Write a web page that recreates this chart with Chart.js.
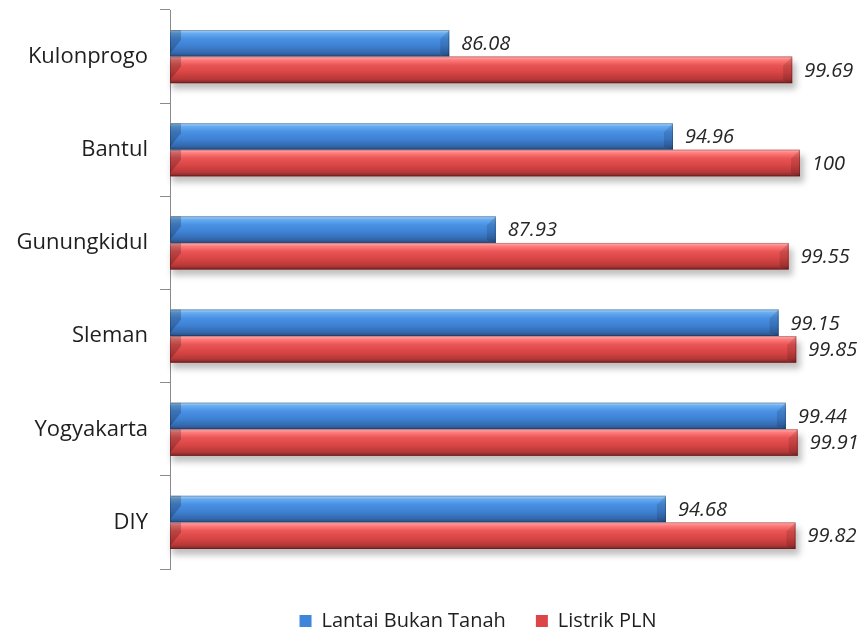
<!DOCTYPE html>
<html>
<head>
<meta charset="utf-8">
<script src="https://cdn.jsdelivr.net/npm/chart.js@4.4.0/dist/chart.umd.min.js"></script>
<style>
  html, body { margin: 0; padding: 0; background: #fff; }
  #wrap { width: 861px; height: 630px; }
</style>
</head>
<body>
<div id="wrap"><canvas id="chart"></canvas></div>
<script>
const regions = ['Kulonprogo', 'Bantul', 'Gunungkidul', 'Sleman', 'Yogyakarta', 'DIY'];
const lantaiBukanTanah = [86.08, 94.96, 87.93, 99.15, 99.44, 94.68];
const listrikPLN = [99.69, 100, 99.55, 99.85, 99.91, 99.82];
const seriesNames = ['Lantai Bukan Tanah', 'Listrik PLN'];

// vertical shading for the "cylinder" look, top to bottom
const shades = [
  ['#b4d6f5', '#66acf2', '#4a91e3', '#3e81d3', '#3469ae', '#274e83'],
  ['#ffb4b4', '#ff7c7c', '#ea5555', '#d84545', '#b73838', '#7c2727']
];

function fillGradient(ctx, top, bottom, stops) {
  const g = ctx.createLinearGradient(0, top, 0, bottom);
  const pos = [0, 0.12, 0.32, 0.6, 0.85, 1];
  stops.forEach((c, i) => g.addColorStop(pos[i], c));
  return g;
}

const bevelBars = {
  id: 'bevelBars',
  afterLayout(chart) {
    // center the legend under the plot rather than the whole canvas
    chart.legend.left = 156;
    chart.legend.right = chart.chartArea.right;
  },
  beforeDatasetsDraw(chart) {
    const ctx = chart.ctx;
    const area = chart.chartArea;
    const meta = chart.getDatasetMeta(1);
    ctx.save();
    ctx.filter = 'blur(3px)';
    ctx.fillStyle = 'rgba(0,0,0,0.25)';
    meta.data.forEach((bar) => {
      const top = bar.y - bar.height / 2;
      const left = Math.max(bar.base, area.left);
      ctx.fillRect(left + 2, top + 6, bar.x - left + 2, bar.height);
    });
    ctx.restore();
  },
  afterDatasetsDraw(chart) {
    const ctx = chart.ctx;
    const area = chart.chartArea;
    ctx.save();
    chart.data.datasets.forEach((ds, di) => {
      const meta = chart.getDatasetMeta(di);
      meta.data.forEach((bar) => {
        const top = bar.y - bar.height / 2;
        const bottom = bar.y + bar.height / 2;
        const left = Math.max(bar.base, area.left);
        const right = bar.x;
        ctx.fillStyle = fillGradient(ctx, top, bottom, shades[di]);
        ctx.fillRect(left, top, right - left, bottom - top);
        // darker corner at the start of the bar
        ctx.fillStyle = 'rgba(0,0,0,0.2)';
        ctx.beginPath();
        ctx.moveTo(left, top);
        ctx.lineTo(left + 11, top);
        ctx.lineTo(left + 11, top + 10);
        ctx.lineTo(left, bottom - 3);
        ctx.closePath();
        ctx.fill();
        // facet at the end of the bar
        ctx.fillStyle = 'rgba(0,0,0,0.12)';
        ctx.beginPath();
        ctx.moveTo(right, top);
        ctx.lineTo(right - 9, top + 9);
        ctx.lineTo(right - 9, bottom - 3);
        ctx.lineTo(right, bottom);
        ctx.closePath();
        ctx.fill();
        ctx.strokeStyle = 'rgba(0,0,0,0.22)';
        ctx.lineWidth = 1;
        ctx.strokeRect(left + 0.5, top + 0.5, right - left - 1, bottom - top - 1);
      });
    });
    // value labels
    ctx.font = 'italic 20px "Open Sans"';
    ctx.fillStyle = '#262626';
    ctx.textBaseline = 'middle';
    ctx.textAlign = 'left';
    chart.data.datasets.forEach((ds, di) => {
      chart.getDatasetMeta(di).data.forEach((bar, i) => {
        ctx.fillText(String(ds.data[i]), bar.x + 12, bar.y + 1);
      });
    });
    ctx.restore();
  }
};

new Chart(document.getElementById('chart'), {
  type: 'bar',
  data: {
    labels: regions,
    datasets: [
      {
        label: seriesNames[0],
        data: lantaiBukanTanah,
        backgroundColor: '#3f86da',
        borderColor: '#2b5e9c',
        borderWidth: 0,
      },
      {
        label: seriesNames[1],
        data: listrikPLN,
        backgroundColor: '#dc4646',
        borderColor: '#9a2d2d',
        borderWidth: 0,
      },
    ],
  },
  options: {
    indexAxis: 'y',
    responsive: true,
    maintainAspectRatio: false,
    animation: false,
    categoryPercentage: 0.57,
    barPercentage: 1,
    layout: { padding: { left: 0, right: 61, top: 10, bottom: -11 } },
    scales: {
      x: {
        min: 75,
        max: 100,
        grid: { display: false },
        border: { display: false },
        ticks: { display: false },
        afterFit: (s) => { s.height = 12; },
      },
      y: {
        grid: { drawOnChartArea: false, tickLength: 10, color: '#8a8a8a' },
        border: { color: '#8a8a8a' },
        ticks: { color: '#1f1f1f', padding: 12, font: { family: 'Open Sans', size: 22 } },
        afterFit: (s) => {
          s.width = 170;
          s.paddingTop = 0;
          s.paddingBottom = 0;
        },
      },
    },
    plugins: {
      legend: {
        position: 'bottom',
        labels: {
          boxWidth: 12,
          boxHeight: 12,
          padding: 30,
          color: '#1f1f1f',
          font: { family: 'Open Sans', size: 20 },
        },
      },
      tooltip: { enabled: false },
    },
  },
  plugins: [bevelBars],
});
</script>
</body>
</html>
